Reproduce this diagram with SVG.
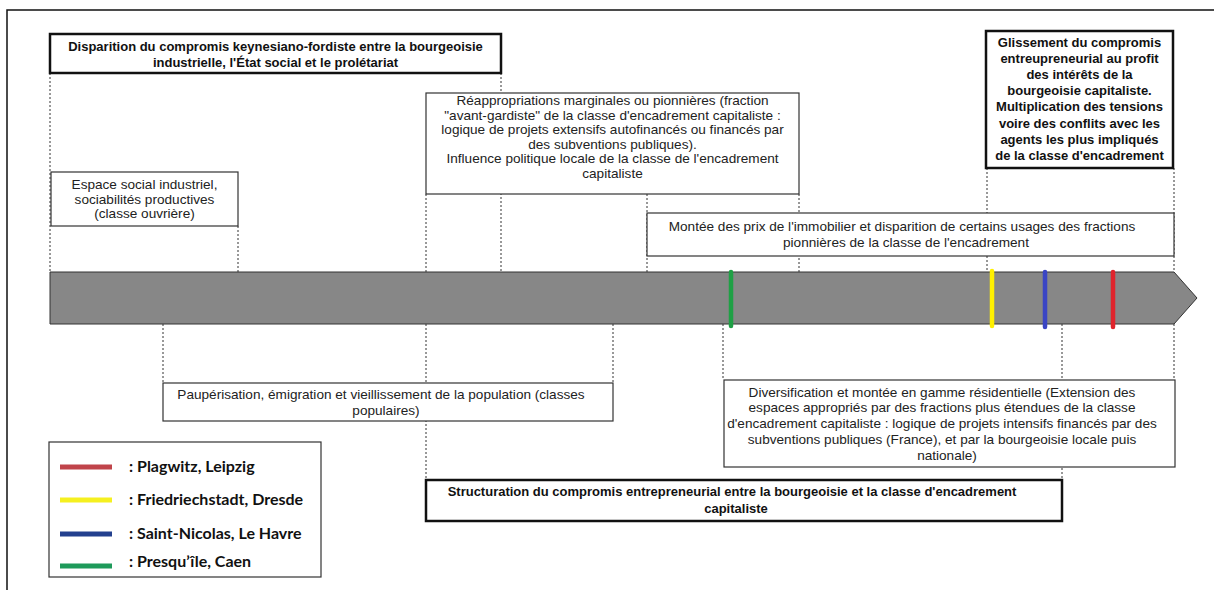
<svg xmlns="http://www.w3.org/2000/svg" width="1214" height="590" viewBox="0 0 1214 590">
<style>
.frame{fill:none;stroke:#111;stroke-width:1.5}
.box{fill:#fff;stroke:#333;stroke-width:1.2}
.bbox{fill:#fff;stroke:#111;stroke-width:2.5}
.t{font-family:"Liberation Sans",Arial,sans-serif;font-size:13.6px;fill:#222;text-anchor:middle}
.b{font-family:"Liberation Sans",Arial,sans-serif;font-size:13px;font-weight:bold;fill:#111;text-anchor:middle}
.dot{stroke:#333;stroke-width:1;stroke-dasharray:2 2;fill:none}
.mk{stroke-width:4.5;stroke-linecap:round}
.lg{stroke-width:5}
.lt{font-family:Lato,"Open Sans",sans-serif;font-size:16px;font-weight:bold;fill:#111}
</style>
<rect width="1214" height="590" fill="#fff"/>
<rect class="frame" x="7" y="10" width="1220" height="600"/>

<g id="connectors">
  <line class="dot" x1="50" y1="73" x2="50" y2="272"/>
  <line class="dot" x1="238" y1="226" x2="238" y2="272"/>
  <line class="dot" x1="501" y1="73" x2="501" y2="272"/>
  <line class="dot" x1="426" y1="194" x2="426" y2="272"/>
  <line class="dot" x1="799" y1="194" x2="799" y2="272"/>
  <line class="dot" x1="647" y1="194" x2="647" y2="272"/>
  <line class="dot" x1="987" y1="168" x2="987" y2="272"/>
  <line class="dot" x1="1174" y1="168" x2="1174" y2="272"/>
  <line class="dot" x1="163" y1="324" x2="163" y2="383"/>
  <line class="dot" x1="613" y1="324" x2="613" y2="383"/>
  <line class="dot" x1="426" y1="324" x2="426" y2="480"/>
  <line class="dot" x1="723" y1="324" x2="723" y2="380"/>
  <line class="dot" x1="1062" y1="324" x2="1062" y2="480"/>
  <line class="dot" x1="1174" y1="324" x2="1174" y2="380"/>
</g>

<g id="timeline">
  <polygon points="50,272 1174,272 1197,298 1174,324 50,324" fill="#878787" stroke="#333" stroke-width="1"/>
  <line class="mk" x1="731" y1="272" x2="731" y2="326" stroke="#1fa045"/>
  <line class="mk" x1="992" y1="271" x2="992" y2="326" stroke="#fff000"/>
  <line class="mk" x1="1045" y1="272" x2="1045" y2="327" stroke="#3a45c4"/>
  <line class="mk" x1="1113" y1="272" x2="1113" y2="327" stroke="#e0242c"/>
</g>

<g id="n-disparition">
  <rect class="bbox" x="50" y="34" width="451" height="39"/>
  <text class="b" x="275.5" y="50.5">Disparition du compromis keynesiano-fordiste entre la bourgeoisie</text>
  <text class="b" x="275.5" y="66.5">industrielle, l'État social et le prolétariat</text>
</g>

<g id="n-glissement">
  <rect class="bbox" x="986" y="31" width="187" height="137"/>
  <text class="b" x="1079.5" y="46.5">Glissement du compromis</text>
  <text class="b" x="1079.5" y="62.7">entreupreneurial au profit</text>
  <text class="b" x="1079.5" y="79">des intérêts de la</text>
  <text class="b" x="1079.5" y="95">bourgeoisie capitaliste.</text>
  <text class="b" x="1079.5" y="111.3">Multiplication des tensions</text>
  <text class="b" x="1079.5" y="127.5">voire des conflits avec les</text>
  <text class="b" x="1079.5" y="143.8">agents les plus impliqués</text>
  <text class="b" x="1079.5" y="160">de la classe d'encadrement</text>
</g>

<g id="n-reappropriations">
  <rect class="box" x="426" y="93" width="373" height="101"/>
  <text class="t" x="612.5" y="105">Réappropriations marginales ou pionnières (fraction</text>
  <text class="t" x="612.5" y="119.5">"avant-gardiste" de la classe d'encadrement capitaliste :</text>
  <text class="t" x="612.5" y="134">logique de projets extensifs autofinancés ou financés par</text>
  <text class="t" x="612.5" y="148.5">des subventions publiques).</text>
  <text class="t" x="612.5" y="163">Influence politique locale de la classe de l'encadrement</text>
  <text class="t" x="612.5" y="177.5">capitaliste</text>
</g>

<g id="n-espace">
  <rect class="box" x="51" y="172" width="187" height="54"/>
  <text class="t" x="144.5" y="189">Espace social industriel,</text>
  <text class="t" x="144.5" y="203.5">sociabilités productives</text>
  <text class="t" x="144.5" y="218">(classe ouvrière)</text>
</g>

<g id="n-montee">
  <rect class="box" x="647" y="213" width="527" height="43"/>
  <text class="t" x="902" y="231">Montée des prix de l'immobilier et disparition de certains usages des fractions</text>
  <text class="t" x="906" y="247">pionnières de la classe de l'encadrement</text>
</g>

<g id="n-pauperisation">
  <rect class="box" x="163" y="383" width="450" height="38"/>
  <text class="t" x="381" y="398.5">Paupérisation, émigration et vieillissement de la population (classes</text>
  <text class="t" x="386" y="414.5">populaires)</text>
</g>

<g id="n-diversification">
  <rect class="box" x="724" y="380" width="451" height="87"/>
  <text class="t" x="942" y="396.5">Diversification et montée en gamme résidentielle (Extension des</text>
  <text class="t" x="942" y="412.2">espaces appropriés par des fractions plus étendues de la classe</text>
  <text class="t" x="942" y="428">d'encadrement capitaliste : logique de projets intensifs financés par des</text>
  <text class="t" x="942" y="443.8">subventions publiques (France), et par la bourgeoisie locale puis</text>
  <text class="t" x="947" y="459.5">nationale)</text>
</g>

<g id="n-structuration">
  <rect class="bbox" x="426" y="480" width="636" height="41"/>
  <text class="b" x="732" y="496">Structuration du compromis entrepreneurial entre la bourgeoisie et la classe d'encadrement</text>
  <text class="b" x="736" y="512.5">capitaliste</text>
</g>

<g id="legend">
  <rect x="49" y="442" width="272" height="135" fill="#fff" stroke="#333" stroke-width="1.2"/>
  <line class="lg" x1="60" y1="467" x2="112" y2="467" stroke="#c0444a"/>
  <line class="lg" x1="60" y1="500" x2="112" y2="500" stroke="#f5f020"/>
  <line class="lg" x1="60" y1="534" x2="112" y2="534" stroke="#23408e"/>
  <line class="lg" x1="60" y1="566" x2="112" y2="566" stroke="#1e9a5a"/>
  <text class="lt" x="129" y="472">: Plagwitz, Leipzig</text>
  <text class="lt" x="129" y="505">: Friedriechstadt, Dresde</text>
  <text class="lt" x="129" y="539">: Saint-Nicolas, Le Havre</text>
  <text class="lt" x="129" y="567">: Presqu’île, Caen</text>
</g>
</svg>
